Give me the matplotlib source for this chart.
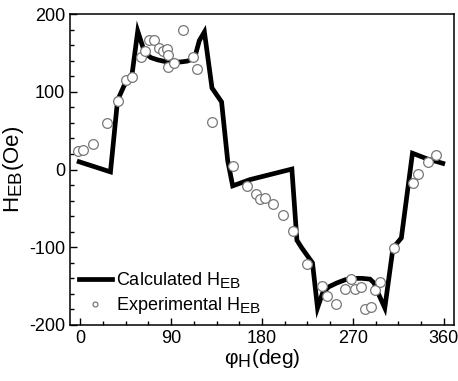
import numpy as np
import matplotlib.pyplot as plt
import matplotlib._mathtext as mathtext_internal
from matplotlib.ticker import MultipleLocator

# bigger subscripts, like the original figure
mathtext_internal.SHRINK_FACTOR = 0.85

plt.rcParams['font.family'] = ['Liberation Sans', 'DejaVu Sans']
plt.rcParams['mathtext.fontset'] = 'custom'
plt.rcParams['mathtext.rm'] = 'Liberation Sans'
plt.rcParams['axes.unicode_minus'] = False

# calculated curve (deg, Oe)
calc_phi = [-1, 30, 37, 43.5, 51, 57, 64, 70, 77, 84, 92, 100, 106, 111, 114, 118, 123,
            130.5, 140, 146, 151, 168, 209.6, 214.6, 219.5, 230, 235, 240, 246, 254, 262,
            270, 279, 287, 291, 293.6, 301.6, 309.7, 318, 329, 343, 359]
calc_heb = [10, -3, 89, 108, 119, 178, 150, 144, 141, 139, 138, 138.5, 139.5, 142, 147,
            166, 177, 105, 87, 12, -21, -13, 0.6, -91, -101, -120, -178, -159, -151, -146,
            -142, -140, -140, -141, -146, -155, -178, -101, -88, 21, 14, 8]

# experimental points
exp_phi = [-2, 3, 13, 27, 37, 45.5, 51, 60, 64, 68, 73, 78, 82, 86, 87, 87, 93, 102, 112,
           116, 131, 151, 165, 174, 178, 183, 191, 201, 211, 225, 239, 244, 253, 262, 268,
           272, 278, 282, 288, 292, 297, 311, 330, 334, 344, 352]
exp_heb = [24, 25, 33, 60, 88, 115, 119, 145, 153, 167, 167, 156, 153, 155, 147, 132, 137,
           180, 145, 130, 61, 5, -21, -31, -38, -37, -44, -58, -79, -121, -150, -163, -173,
           -154, -141, -154, -151, -180, -177, -155, -145, -101, -17, -6, 10, 19]

fig = plt.figure(figsize=(4.58, 3.81), dpi=100)
ax = fig.add_axes([0.153, 0.147, 0.838, 0.816])

ax.plot(calc_phi, calc_heb, color='black', lw=3.4, solid_joinstyle='miter',
        label=r'Calculated H$_{\mathregular{EB}}$', zorder=2)
ax.plot(exp_phi, exp_heb, ls='none', marker='o', ms=7, mfc='white', mec='#777777',
        mew=0.9, label=r'Experimental H$_{\mathregular{EB}}$', zorder=3)

ax.set_xlim(-10, 370)
ax.set_ylim(-200, 200)
ax.xaxis.set_major_locator(MultipleLocator(90))
ax.xaxis.set_minor_locator(MultipleLocator(22.5))
ax.yaxis.set_major_locator(MultipleLocator(100))
ax.yaxis.set_minor_locator(MultipleLocator(20))
ax.tick_params(which='both', direction='in', top=False, right=False, labelsize=13)
ax.tick_params(which='major', length=5, width=1)
ax.tick_params(which='minor', length=3, width=1)
for s in ax.spines.values():
    s.set_linewidth(1.1)

ax.set_xlabel(r'φ$_{\mathregular{H}}$(deg)', fontsize=15, labelpad=0)
ax.set_ylabel(r'H$_{\mathregular{EB}}$(Oe)', fontsize=16, labelpad=2)

ax.legend(loc='lower left', frameon=False, fontsize=13, markerscale=0.5,
          handlelength=1.8, handletextpad=0.25, borderaxespad=0.1, labelspacing=0.25)

fig.savefig('out.png', dpi=100)
